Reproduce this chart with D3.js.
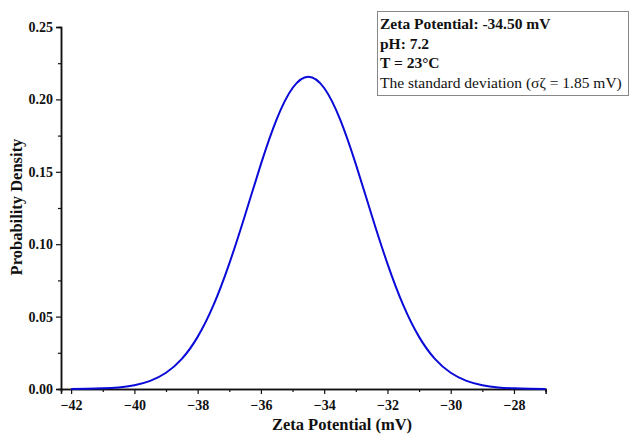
<!DOCTYPE html>
<html>
<head>
<meta charset="utf-8">
<script src="https://cdn.jsdelivr.net/npm/d3@7"></script>
<style>
  body { margin: 0; background: #fff; }
  svg { display: block; font-family: 'Liberation Serif', 'Times New Roman', serif; }
</style>
</head>
<body>
<svg id="chart"></svg>
<script>
const width = 629;
const height = 435;

// values
const potentials = [-42, -41.5, -41, -40.5, -40, -39.5, -39, -38.5, -38, -37.5, -37, -36.5, -36, -35.5, -35, -34.5,
  -34, -33.5, -33, -32.5, -32, -31.5, -31, -30.5, -30, -29.5, -29, -28.5, -28, -27.5, -27];
const densities = [0.00006, 0.00017, 0.00045, 0.0011, 0.0026, 0.0056, 0.0112, 0.0208, 0.036, 0.0579, 0.0866, 0.1202,
  0.1553, 0.1864, 0.2079, 0.2157, 0.2079, 0.1864, 0.1553, 0.1202, 0.0866, 0.0579, 0.036, 0.0208, 0.0112, 0.0056,
  0.0026, 0.0011, 0.00045, 0.00017, 0.00006];
const xTicks = [-42, -40, -38, -36, -34, -32, -30, -28];
const yTicks = [0, 0.05, 0.10, 0.15, 0.20, 0.25];
const infoLines = [
  { text: 'Zeta Potential: -34.50 mV', bold: true },
  { text: 'pH: 7.2', bold: true },
  { text: 'T = 23°C', bold: true },
  { text: 'The standard deviation (σζ = 1.85 mV)', bold: false }
];

const svg = d3.select('#chart').attr('width', width).attr('height', height);

const x = d3.scaleLinear().domain([-42.32, -27]).range([61, 545.6]);
const y = d3.scaleLinear().domain([0, 0.25]).range([389, 27]);

// x axis ----------------------
const xAxis = svg.append('g').attr('transform', `translate(0, ${y(0)})`);
xAxis.call(d3.axisBottom(x).tickValues(d3.range(-41, -27, 2)).tickSize(3).tickFormat(''));
xAxis.append('g').call(d3.axisBottom(x).tickValues(xTicks).tickSize(5).tickFormat(d => '\u2212' + Math.abs(d)));
xAxis.selectAll('.domain').attr('stroke', '#111').attr('stroke-width', 1.5);
xAxis.selectAll('.tick line').attr('stroke', '#111').attr('stroke-width', 1.2);
xAxis.selectAll('text')
  .attr('fill', '#111')
  .style('font-size', '14px')
  .style('font-weight', 'bold')
  .style('font-family', 'Liberation Serif, serif')
  .attr('dy', '0.9em');

// y axis ----------------------
const yAxis = svg.append('g').attr('transform', `translate(${x.range()[0]}, 0)`);
yAxis.call(d3.axisLeft(y).tickValues(d3.range(0.025, 0.25, 0.05)).tickSize(3).tickFormat(''));
yAxis.append('g').call(d3.axisLeft(y).tickValues(yTicks).tickSize(5).tickFormat(d3.format('.2f')));
yAxis.selectAll('.domain').attr('stroke', '#111').attr('stroke-width', 1.5);
yAxis.selectAll('.tick line').attr('stroke', '#111').attr('stroke-width', 1.2);
yAxis.selectAll('text')
  .attr('fill', '#111')
  .style('font-size', '14px')
  .style('font-weight', 'bold')
  .style('font-family', 'Liberation Serif, serif');

// axis titles
svg.append('text')
  .attr('x', 342)
  .attr('y', 426)
  .attr('text-anchor', 'middle')
  .attr('dominant-baseline', 'middle')
  .style('font-size', '16.5px')
  .style('font-weight', 'bold')
  .attr('fill', '#111')
  .text('Zeta Potential (mV)');
svg.append('text')
  .attr('transform', 'rotate(-90)')
  .attr('x', -207)
  .attr('y', 18)
  .attr('text-anchor', 'middle')
  .attr('dominant-baseline', 'middle')
  .style('font-size', '16.5px')
  .style('font-weight', 'bold')
  .attr('fill', '#111')
  .text('Probability Density');

// the curve
const points = potentials.map((p, i) => [p, densities[i]]);
const line = d3.line()
  .x(d => x(d[0]))
  .y(d => y(d[1]))
  .curve(d3.curveNatural);
svg.append('path')
  .datum(points)
  .attr('fill', 'none')
  .attr('stroke', '#0a0ad8')
  .attr('stroke-width', 2)
  .attr('d', line);

// info box
const box = svg.append('g').attr('transform', 'translate(377, 11)');
box.append('rect')
  .attr('x', 0.5).attr('y', 0.5)
  .attr('width', 251).attr('height', 84)
  .attr('fill', '#fff')
  .attr('stroke', '#888')
  .attr('stroke-width', 1);
box.selectAll('text.info')
  .data(infoLines)
  .join('text')
  .classed('info', true)
  .attr('x', 3)
  .attr('y', (d, i) => 18 + i * 19.7)
  .style('font-size', '15.5px')
  .style('font-weight', d => d.bold ? 'bold' : 'normal')
  .attr('fill', '#111')
  .text(d => d.text);
</script>
</body>
</html>
